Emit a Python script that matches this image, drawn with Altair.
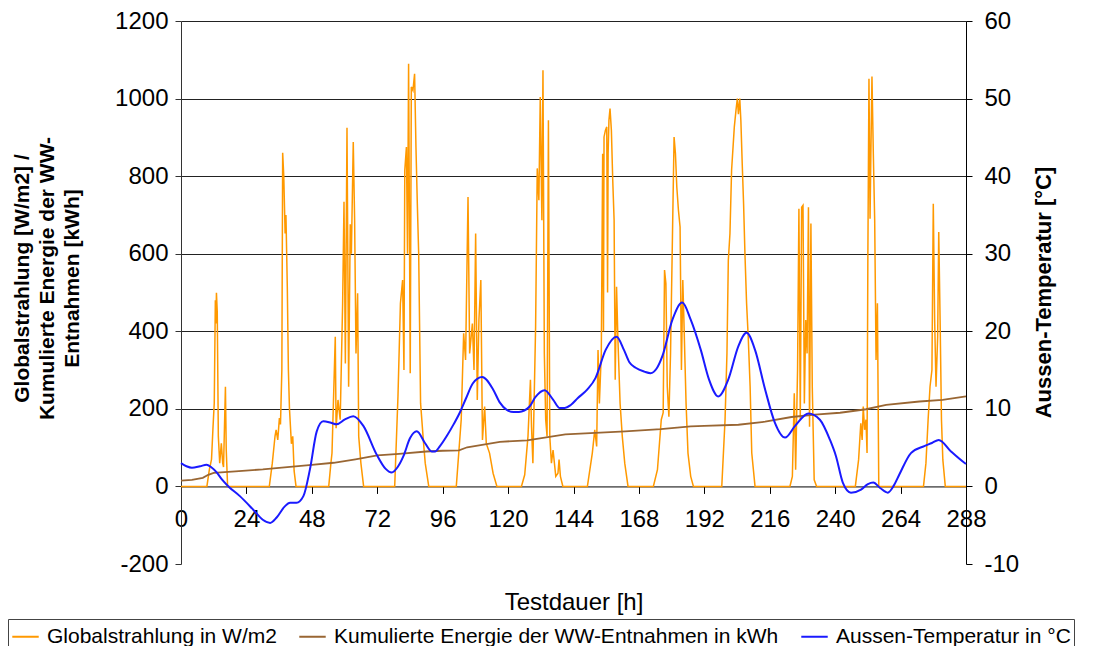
import altair as alt
import pandas as pd

# ---------------- data ----------------
x_ticks = list(range(0, 289, 24))
left_ticks = list(range(-200, 1201, 200))
right_ticks = list(range(-10, 61, 10))

series_names = [
    "Globalstrahlung in W/m2",
    "Kumulierte Energie der WW-Entnahmen in kWh",
    "Aussen-Temperatur in °C",
]
series_colors = ["#FF9900", "#996633", "#1A1AFF"]

# Globalstrahlung (W/m2) - time [h] and value
sol_t = [
    0, 9.5, 10.4, 11.2, 11.7, 12.2, 12.6, 12.8, 13.0, 13.3, 13.7, 14.2, 14.8, 15.3, 15.6, 16.3, 16.6, 17.1,
    32.4, 33.5, 34.5, 34.9, 35.5, 36.1, 36.5, 37.0, 37.3, 37.7, 38.2, 38.5, 39.0, 39.4, 39.8, 40.5, 41.0, 41.5, 42.2,
    54.2, 55.0, 55.4, 56.6, 56.9, 57.6, 58.4, 59.3, 59.8, 60.3, 60.9, 61.5, 62.1, 62.5, 63.2, 63.7, 64.2, 64.8, 65.2, 66.0, 67.0,
    78.4, 79.6, 80.5, 81.3, 81.8, 82.1, 82.7, 83.1, 83.5, 84.1, 84.5, 85.1, 85.7, 86.2, 86.7, 87.2, 87.9, 89.0, 89.6, 90.9,
    101.0, 102.8, 103.7, 104.4, 105.3, 105.9, 106.9, 107.5, 108.1, 108.7, 109.3, 110.0, 110.6, 111.4, 112.0, 113.2, 114.5, 115.9,
    124.9, 126.1, 127.3, 128.2, 128.6, 129.1, 130.1, 130.7, 131.3, 131.8, 132.4, 132.8, 133.3, 133.8, 134.3, 134.8, 135.3, 135.9, 136.5, 137.5, 138.3, 138.7, 139.2, 140.1,
    149.1, 150.9, 151.8, 152.5, 153.0, 153.5, 154.2, 154.7, 155.0, 155.2, 155.7, 156.2, 156.5, 156.7, 157.0, 157.4, 157.9, 158.4, 158.9, 159.3, 159.8, 160.3, 161.1, 161.9, 162.8, 164.0,
    173.3, 174.8, 176.2, 176.9, 177.4, 177.9, 178.4, 179.0, 179.6, 180.3, 180.9, 181.4, 181.9, 182.5, 183.1, 183.6, 184.1, 184.5, 185.3, 186.0, 187.0, 188.0,
    198.4, 199.6, 200.3, 200.8, 201.4, 202.0, 203.0, 203.6, 204.1, 204.5, 205.0, 205.4, 205.9, 206.4, 206.9, 207.5, 208.1, 208.8, 209.4, 210.6,
    223.4, 224.3, 225.0, 225.5, 226.2, 226.7, 227.2, 227.7, 228.2, 228.7, 229.2, 229.7, 230.2, 230.6, 231.1, 231.6, 232.3, 233.2,
    247.4, 248.6, 249.4, 249.9, 250.3, 250.8, 251.3, 251.7, 252.0, 252.4, 252.8, 253.1, 253.5, 254.0, 254.5, 255.0, 255.5, 256.0,
    272.4, 273.3, 274.1, 274.8, 275.5, 276.0, 276.5, 277.0, 277.6, 278.0, 278.5, 279.0, 279.5, 280.4, 288,
]
sol_v = [
    0, 0, 43, 70, 146, 215, 480, 420, 499, 450, 129, 60, 111, 60, 50, 257, 94, 0,
    0, 60, 130, 146, 120, 176, 160, 300, 860, 800, 652, 700, 515, 300, 200, 110, 129, 40, 0,
    0, 60, 86, 386, 150, 223, 172, 472, 734, 317, 925, 257, 676, 600, 888, 686, 343, 498, 129, 60, 0,
    0, 232, 472, 532, 300, 815, 875, 600, 1090, 292, 1030, 1021, 1064, 875, 729, 600, 214, 111, 60, 0,
    0, 172, 395, 326, 746, 343, 420, 300, 652, 223, 429, 532, 120, 206, 111, 86, 34, 0,
    0, 30, 129, 275, 154, 60, 412, 820, 738, 1004, 686, 1073, 343, 172, 129, 944, 129, 60, 94, 26, 34, 69, 26, 0,
    0, 86, 146, 103, 352, 214, 343, 858, 400, 901, 918, 927, 500, 858, 944, 974, 918, 789, 686, 275, 515, 378, 214, 129, 60, 0,
    0, 43, 172, 190, 558, 523, 257, 180, 343, 643, 901, 858, 772, 712, 669, 300, 532, 429, 214, 86, 26, 0,
    0, 172, 343, 583, 652, 815, 927, 969, 1000, 960, 1000, 944, 832, 729, 600, 472, 386, 257, 86, 0,
    0, 26, 240, 43, 300, 716, 172, 720, 725, 214, 429, 343, 720, 154, 678, 257, 17, 0,
    0, 69, 163, 120, 206, 146, 172, 86, 600, 1051, 690, 858, 1057, 858, 686, 326, 472, 0,
    0, 60, 172, 257, 300, 729, 429, 257, 386, 656, 429, 172, 69, 0, 0,
]

# Kumulierte Energie (kWh)
cum_t = [0, 4, 8, 10, 12, 20, 30, 36, 47, 56, 64, 72, 80, 90, 96, 102, 105, 117, 127, 141,
         163, 176, 187, 192, 204.5, 214.3, 224, 232.6, 241.8, 251.3, 258.7, 270.9, 279.4, 288]
cum_v = [15, 17, 22, 30, 35, 39, 44, 48, 55, 61, 70, 80, 84, 90, 92, 93, 101, 115, 119, 134,
         142, 148, 155, 156, 159, 167, 179, 185, 190, 199, 210, 219, 223, 232]

# Aussen-Temperatur (°C)
temp_t = [0, 2, 4, 7, 9.4, 11, 13.1, 15, 17.4, 21.6, 26.5, 30, 32.7, 35.1, 38, 40, 42.4, 44.9,
          47.3, 49.8, 52.2, 55, 57.1, 60, 63.2, 66.9, 71.8, 75, 77.3, 79.5, 81.6, 84, 86.5, 89.5,
          92, 93.2, 95, 97.5, 100, 102.4, 104.5, 107.1, 110.5, 114.5, 117, 119.4, 122, 124, 127.9,
          130, 133.4, 136.5, 139, 140.8, 143, 145.6, 149.1, 152.1, 155.8, 159.8, 162.5, 164.5,
          166.8, 170, 172.3, 174.5, 176.6, 180.3, 183.9, 187, 190.7, 193.7, 197.1, 200.8, 204.5,
          207.5, 210.6, 214.3, 217.9, 221.6, 225.3, 230.2, 234.4, 238.1, 240.3, 242.8, 245.8,
          249.5, 252, 254, 256.5, 259.3, 261.5, 263.5, 267.8, 272.7, 275.5, 278, 282.5, 287.4, 288]
temp_c = [3.0, 2.6, 2.4, 2.6, 2.8, 2.5, 1.8, 0.9, 0.0, -1.25, -3.0, -4.3, -4.7, -4.0, -2.6, -2.1, -2.1, -1.25,
          2.2, 7.1, 8.4, 8.2, 8.0, 8.6, 9.05, 7.8, 4.1, 2.3, 1.8, 2.5, 3.9, 6.2, 7.1, 5.6,
          4.5, 4.5, 5.2, 6.5, 8.0, 9.6, 11.3, 13.3, 14.1, 12.5, 10.8, 9.9, 9.6, 9.6, 10.3,
          11.5, 12.4, 11.2, 10.1, 10.1, 10.5, 11.4, 12.5, 14.0, 17.6, 19.3, 17.6, 16.0,
          15.3, 14.8, 14.6, 15.2, 16.8, 21.5, 23.7, 21.5, 17.6, 13.8, 11.6, 13.8, 18.1,
          19.8, 17.6, 12.5, 8.2, 6.3, 7.8, 9.4, 8.6, 6.0, 3.9, 0.5, -0.8,
          -0.4, 0.3, 0.5, -0.2, -0.8, 0.1, 1.5, 4.3, 5.2, 5.6, 6.0, 4.5, 3.05, 2.9]

# ---------------- frames ----------------
df_sol = pd.DataFrame({"h": sol_t, "v": sol_v, "s": series_names[0]})
df_cum = pd.DataFrame({"h": cum_t, "v": cum_v, "s": series_names[1]})
df_tmp = pd.DataFrame({"h": temp_t, "v": temp_c, "s": series_names[2]})

FONT = "Liberation Sans"
W, H = 785, 543
x_offset = -(H * 200.0 / 1400.0)
PLAIN = "'' + datum.value"

color_scale = alt.Scale(domain=series_names, range=series_colors)
legend = alt.Legend(
    orient="none", legendX=-173, legendY=598, direction="horizontal", title=None,
    symbolType="stroke", symbolSize=700, symbolStrokeWidth=2,
    labelFontSize=21, labelFont=FONT, labelColor="#000", labelOffset=7,
    columnPadding=18, strokeColor="#444", fillColor="white", padding=3,
    labelLimit=700,
)

x_enc = alt.X(
    "h:Q",
    scale=alt.Scale(domain=[0, 288], nice=False, zero=False),
    axis=alt.Axis(
        values=x_ticks, offset=x_offset, grid=False, labelFlush=False, labelExpr=PLAIN,
        domainColor="#000", tickColor="#000", tickSize=7,
        labelFontSize=24, labelPadding=14, labelColor="#000", labelFont=FONT,
        title="Testdauer [h]", titleFontSize=24, titleFontWeight="normal", titleFont=FONT,
        titleColor="#000", titleBaseline="top", titleY=104, titleAlign="center",
    ),
)

left_scale = alt.Scale(domain=[-200, 1200], nice=False, zero=False)
left_axis = alt.Axis(
    values=left_ticks, grid=True, gridColor="#222", gridWidth=1,
    gridOpacity={"expr": "datum.value > 0 ? 1 : 0"}, labelExpr=PLAIN,
    domainColor="#333", tickColor="#333", tickSize=6,
    labelFontSize=24, labelPadding=7, labelColor="#000", labelFont=FONT,
    title=["Globalstrahlung [W/m2] /", "Kumulierte Energie der WW-", "Entnahmen [kWh]"],
    titleFontSize=21, titleFontWeight="bold", titleFont=FONT, titleColor="#000",
    titleLineHeight=25, titleAngle=270, titleX=-159, titleY=257,
    titleAlign="center", titleBaseline="middle",
)
right_axis = alt.Axis(
    orient="right", values=right_ticks, grid=False, labelExpr=PLAIN,
    domainColor="#000", tickColor="#000", tickSize=6,
    labelFontSize=24, labelPadding=12, labelColor="#000", labelFont=FONT,
    title="Aussen-Temperatur [°C]", titleFontSize=22, titleFontWeight="bold",
    titleFont=FONT, titleColor="#000", titleAngle=270, titleX=77, titleY=271,
    titleAlign="center", titleBaseline="middle",
)

sol = alt.Chart(df_sol).mark_line(strokeWidth=1.5).encode(
    x=x_enc,
    y=alt.Y("v:Q", scale=left_scale, axis=left_axis),
    color=alt.Color("s:N", scale=color_scale, legend=legend),
)
cum = alt.Chart(df_cum).mark_line(strokeWidth=1.8).encode(
    x=x_enc,
    y=alt.Y("v:Q", scale=left_scale, axis=left_axis),
    color=alt.Color("s:N", scale=color_scale, legend=legend),
)
left = alt.layer(sol, cum)

tmp = alt.Chart(df_tmp).mark_line(strokeWidth=2, interpolate="monotone").encode(
    x=x_enc,
    y=alt.Y("v:Q", scale=alt.Scale(domain=[-10, 60], nice=False, zero=False), axis=right_axis),
    color=alt.Color("s:N", scale=color_scale, legend=legend),
)

chart = alt.layer(left, tmp).resolve_scale(y="independent").properties(
    width=W, height=H,
    padding={"left": 173, "top": 13, "right": 119, "bottom": 82},
    autosize=alt.AutoSizeParams(type="none"),
    background="white",
).configure_view(strokeWidth=0)

chart.save("out.html", embed_options={"renderer": "svg", "actions": False})
